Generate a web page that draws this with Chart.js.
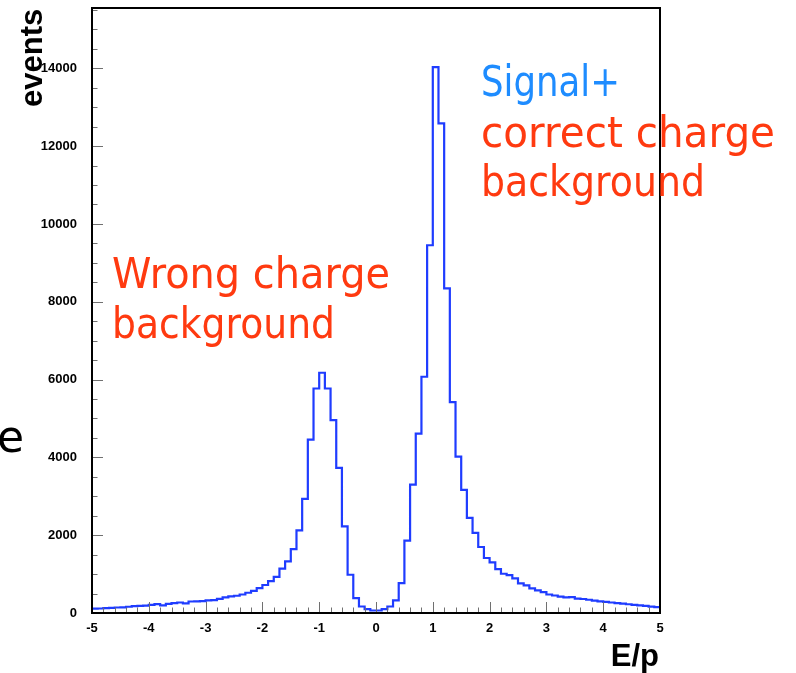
<!DOCTYPE html>
<html>
<head>
<meta charset="utf-8">
<script src="https://cdn.jsdelivr.net/npm/chart.js@4.4.1/dist/chart.umd.min.js"></script>
<style>
  html, body { margin: 0; padding: 0; background: #fff; }
  #wrap { width: 796px; height: 673px; }
</style>
</head>
<body>
<div id="wrap"><canvas id="chart" width="796" height="673"></canvas></div>
<script>
// E/p histogram: 100 bins of width 0.1 from -5 to 5
const binLow = -5;
const binWidth = 0.1;
const counts = [
    110, 116, 126, 130, 142, 145, 160, 177, 185, 190,
    211, 228, 195, 235, 255, 270, 245, 296, 300, 305,
    322, 330, 365, 400, 425, 443, 476, 520, 571, 640,
    720, 820, 930, 1138, 1326, 1640, 2124, 2932, 4458, 5770,
    6175, 5770, 4955, 3730, 2227, 983, 383, 167, 100, 64,
    64, 100, 167, 322, 770, 1860, 3300, 4610, 6072, 9452,
    14030, 12585, 8345, 5418, 4020, 3163, 2443, 2057, 1696, 1413,
    1300, 1130, 1009, 975, 888, 759, 708, 631, 579, 538,
    476, 450, 420, 400, 410, 370, 360, 340, 320, 300,
    285, 270, 255, 240, 225, 210, 195, 185, 165, 150
];
const xTickValues = [-5, -4, -3, -2, -1, 0, 1, 2, 3, 4, 5];
const yTickValues = [0, 2000, 4000, 6000, 8000, 10000, 12000, 14000];
const xMin = -5;
const xMax = 5;
const yMax = 15550;
const xTitle = 'E/p';
const yTitle = 'events';
const labelWrong = ['Wrong charge', 'background'];
const labelSignal = ['Signal+', 'correct charge', 'background'];

// точки гистограммы: левые края бинов + правый край последнего
const points = counts.map((c, i) => ({ x: binLow + i * binWidth, y: c }));
points.push({ x: binLow + counts.length * binWidth, y: counts[counts.length - 1] });

const tickFont = { family: "'Liberation Sans', Arial, sans-serif", size: 13, weight: 'bold' };

// text scaled horizontally to a target width
function fitText(ctx, text, x, y, width, size, color) {
    ctx.save();
    ctx.font = size + "px 'DejaVu Sans', sans-serif";
    ctx.fillStyle = color;
    ctx.textAlign = 'left';
    ctx.textBaseline = 'alphabetic';
    const w = ctx.measureText(text).width;
    ctx.translate(x, y);
    ctx.scale(width / w, 1);
    ctx.fillText(text, 0, 0);
    ctx.restore();
}

const frameAndTicks = {
    id: 'frameAndTicks',
    afterDraw(chart) {
        const ctx = chart.ctx;
        const a = chart.chartArea;
        const xs = chart.scales.x;
        const ys = chart.scales.y;
        ctx.save();

        // ticks inside the frame
        ctx.strokeStyle = '#707070';
        ctx.lineWidth = 1;
        ctx.beginPath();
        for (let v = 0; v <= yMax; v += 500) {
            const y = Math.round(ys.getPixelForValue(v)) + 0.5;
            const len = v % 2000 === 0 ? 11 : 5.5;
            ctx.moveTo(a.left, y);
            ctx.lineTo(a.left + len, y);
        }
        for (let i = 0; i <= 50; i++) {
            const x = Math.round(xs.getPixelForValue(xMin + i * 0.2)) + 0.5;
            const len = i % 5 === 0 ? 11 : 5.5;
            ctx.moveTo(x, a.bottom);
            ctx.lineTo(x, a.bottom - len);
        }
        ctx.stroke();

        // frame
        ctx.strokeStyle = '#000';
        ctx.lineWidth = 2;
        ctx.strokeRect(a.left, a.top, a.right - a.left, a.bottom - a.top);

        // axis titles
        ctx.fillStyle = '#000';
        ctx.font = "bold 31px 'Liberation Sans', Arial, sans-serif";
        ctx.textAlign = 'right';
        ctx.textBaseline = 'alphabetic';
        ctx.fillText(xTitle, a.right - 1, 666);

        ctx.save();
        ctx.translate(42, 107);
        ctx.rotate(-Math.PI / 2);
        ctx.textAlign = 'left';
        ctx.fillText(yTitle, 0, 0);
        ctx.restore();

        // обрезок буквы слева
        ctx.font = "44px 'DejaVu Sans', sans-serif";
        ctx.textAlign = 'left';
        ctx.fillText('e', -3, 452);

        // annotations
        const red = '#ff3a10';
        const blue = '#1e8cff';
        fitText(ctx, labelWrong[0], 112, 288, 278, 42, red);
        fitText(ctx, labelWrong[1], 112, 338, 223, 42, red);
        fitText(ctx, labelSignal[0], 481, 96, 139, 42, blue);
        fitText(ctx, labelSignal[1], 481, 147, 294, 42, red);
        fitText(ctx, labelSignal[2], 481, 196, 224, 42, red);

        ctx.restore();
    }
};

new Chart(document.getElementById('chart'), {
    type: 'line',
    data: {
        datasets: [{
            data: points,
            stepped: 'before',
            borderColor: '#1f3cff',
            borderWidth: 2.2,
            pointRadius: 0,
            fill: false
        }]
    },
    options: {
        responsive: false,
        animation: false,
        layout: { padding: { left: 0, top: 8, right: 136, bottom: 30 } },
        plugins: {
            legend: { display: false },
            tooltip: { enabled: false }
        },
        scales: {
            x: {
                type: 'linear',
                min: xMin,
                max: xMax,
                grid: { display: false, drawTicks: false },
                border: { display: false },
                afterBuildTicks(scale) {
                    scale.ticks = xTickValues.map(v => ({ value: v }));
                },
                ticks: {
                    autoSkip: false,
                    maxRotation: 0,
                    padding: 8,
                    color: '#000',
                    font: tickFont,
                    callback: v => String(v)
                },
                afterFit(scale) {
                    scale.height = 30;
                    scale.paddingLeft = 0;
                    scale.paddingRight = 0;
                }
            },
            y: {
                min: 0,
                max: yMax,
                grid: { display: false, drawTicks: false },
                border: { display: false },
                afterBuildTicks(scale) {
                    scale.ticks = yTickValues.map(v => ({ value: v }));
                },
                ticks: {
                    autoSkip: false,
                    padding: 15,
                    color: '#000',
                    font: tickFont,
                    callback: v => String(v)
                },
                afterFit(scale) {
                    scale.width = 92;
                    scale.paddingTop = 0;
                    scale.paddingBottom = 0;
                }
            }
        }
    },
    plugins: [frameAndTicks]
});
</script>
</body>
</html>
